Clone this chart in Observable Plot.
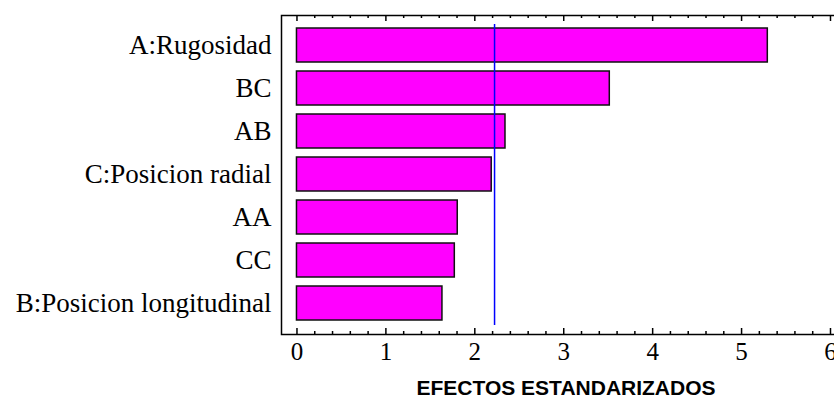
<!DOCTYPE html>
<html>
<head>
<meta charset="utf-8">
<script src="https://cdn.jsdelivr.net/npm/d3@7"></script>
<script src="https://cdn.jsdelivr.net/npm/@observablehq/plot@0.6"></script>
<style>
  html, body { margin: 0; padding: 0; background: white; overflow: hidden; }
  #chart { width: 834px; height: 404px; overflow: hidden; }
  #chart svg { max-width: none !important; }
</style>
</head>
<body>
<div id="chart"></div>
<script>
const categories = ["A:Rugosidad", "BC", "AB", "C:Posicion radial", "AA", "CC", "B:Posicion longitudinal"];
const effects = [5.295, 3.518, 2.345, 2.19, 1.808, 1.775, 1.636];
const criticalValue = [2.222];
const xTickLabels = [0, 1, 2, 3, 4, 5, 6];
const xMinorTicks = [0.2, 0.4, 0.6, 0.8, 1.2, 1.4, 1.6, 1.8, 2.2, 2.4, 2.6, 2.8, 3.2, 3.4, 3.6, 3.8,
                     4.2, 4.4, 4.6, 4.8, 5.2, 5.4, 5.6, 5.8, 6.2];
const axisTitle = "EFECTOS ESTANDARIZADOS";

const data = categories.map((c, i) => ({term: c, effect: effects[i]}));

const W = 850, H = 404;
const mTop = 15, mBottom = 70, mLeft = 281, mRight = 0;
const frameH = H - mTop - mBottom;

const plot = Plot.plot({
  width: W,
  height: H,
  marginTop: mTop,
  marginBottom: mBottom,
  marginLeft: mLeft,
  marginRight: mRight,
  style: {fontFamily: "Liberation Serif", background: "white", color: "black", maxWidth: "none"},
  x: {domain: [-0.174, 6.225], axis: null},
  y: {domain: categories, axis: null, paddingInner: 0.204, paddingOuter: 0.305, align: 0.5},
  marks: [
    Plot.barX(data, {x: "effect", y: "term", fill: "#ff00ff", stroke: "#111", strokeWidth: 1.5}),
    Plot.ruleX(criticalValue, {x: d => d, stroke: "#0000ff", strokeWidth: 1.5, insetTop: 9, insetBottom: 9}),
    // major ticks top & bottom (inward)
    Plot.ruleX(xTickLabels, {x: d => d, stroke: "black", strokeWidth: 1.5, insetBottom: frameH - 6}),
    Plot.ruleX(xTickLabels, {x: d => d, stroke: "black", strokeWidth: 1.5, insetTop: frameH - 6}),
    // minor ticks
    Plot.ruleX(xMinorTicks, {x: d => d, stroke: "black", strokeWidth: 1.5, insetBottom: frameH - 3}),
    Plot.ruleX(xMinorTicks, {x: d => d, stroke: "black", strokeWidth: 1.5, insetTop: frameH - 3}),
    Plot.frame({stroke: "black", strokeWidth: 1.5}),
    // y labels
    Plot.text(categories, {y: d => d, text: d => d, frameAnchor: "left", textAnchor: "end", dx: -10,
      fontSize: 27, fontFamily: "Liberation Serif", fill: "black"}),
    // x tick labels
    Plot.text(xTickLabels, {x: d => d, text: d => String(d), frameAnchor: "bottom", dy: 25.5,
      fontSize: 25, fontFamily: "Liberation Serif", fill: "black"}),
    // axis title
    Plot.text([axisTitle], {text: d => d, frameAnchor: "bottom", dx: 0, dy: 60,
      fontSize: 21, fontWeight: "bold", fontFamily: "Liberation Sans", fill: "black"})
  ]
});
document.getElementById("chart").appendChild(plot);
</script>
</body>
</html>
